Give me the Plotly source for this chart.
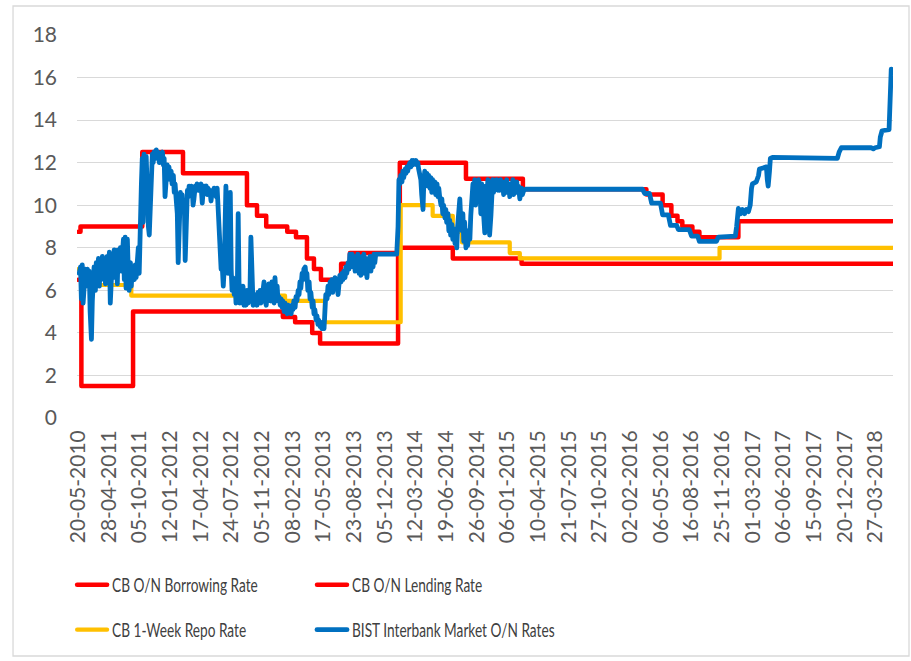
import plotly.graph_objects as go

# Observation number (business-day index) and rate (%) for each series.
# Policy rates are stored as change points and drawn as steps.
BORROW_OBS = [0, 7, 125, 467, 495, 534, 552, 730, 855, 1012, 1858]
BORROW_RATE = [6.5, 1.5, 5.0, 4.75, 4.5, 4.0, 3.5, 8.0, 7.5, 7.25, 7.25]

LEND_OBS = [0, 5, 146, 239, 385, 408, 429, 477, 497, 522, 538, 554, 600, 620,
            734, 885, 1015, 1297, 1334, 1354, 1368, 1379, 1402, 1418, 1507, 1858]
LEND_RATE = [8.75, 9.0, 12.5, 11.5, 10.0, 9.5, 9.0, 8.75, 8.5, 7.5, 7.0, 6.5, 7.25, 7.75,
             12.0, 11.25, 10.75, 10.5, 10.0, 9.5, 9.25, 9.0, 8.75, 8.5, 9.25, 9.25]

REPO_OBS = [0, 9, 41, 121, 472, 563, 736, 809, 855, 876, 985, 1008, 1464, 1858]
REPO_RATE = [7.0, 6.5, 6.25, 5.75, 5.5, 4.5, 10.0, 9.5, 8.75, 8.25, 7.75, 7.5, 8.0, 8.0]

BIST_OBS = [
    2, 5, 7, 9, 11, 14, 16, 18, 21, 23, 25, 27, 30, 32, 34, 36, 39, 41, 43, 46, 48, 50, 52, 55,
    57, 59, 62, 64, 66, 68, 71, 73, 75, 78, 80, 82, 84, 87, 89, 91, 93, 96, 98, 100, 103, 105, 107, 109, 112,
    114, 116, 119, 121, 123, 125, 128, 130, 132, 135, 137, 139, 141, 144, 146, 148, 150, 153, 155, 157, 160, 162, 164, 166, 169,
    171, 173, 176, 178, 180, 182, 185, 187, 189, 192, 194, 196, 198, 201, 203, 205, 207, 210, 212, 214, 217, 219, 221, 223, 226,
    228, 230, 233, 235, 237, 239, 242, 244, 246, 249, 251, 253, 255, 258, 260, 262, 264, 267, 269, 271, 274, 276, 278, 280, 283,
    285, 287, 290, 292, 294, 296, 299, 301, 303, 306, 308, 310, 312, 315, 317, 319, 321, 324, 326, 328, 331, 333, 335, 337, 340,
    342, 344, 347, 349, 351, 353, 356, 358, 360, 363, 365, 367, 369, 372, 374, 376, 378, 381, 383, 385, 388, 390, 392, 394, 397,
    399, 401, 404, 406, 408, 410, 413, 415, 417, 420, 422, 424, 426, 429, 431, 433, 435, 438, 440, 442, 445, 447, 449, 451, 454,
    456, 458, 461, 463, 465, 467, 470, 472, 474, 477, 479, 481, 483, 486, 488, 490, 492, 495, 497, 499, 502, 504, 506, 508, 511,
    513, 515, 518, 520, 522, 524, 527, 529, 531, 534, 536, 538, 540, 543, 545, 547, 549, 552, 554, 556, 559, 561, 563, 565, 568,
    570, 572, 575, 577, 579, 581, 584, 586, 588, 591, 593, 595, 597, 600, 602, 604, 606, 609, 611, 613, 616, 618, 620, 622, 625,
    627, 629, 632, 634, 636, 638, 641, 643, 645, 648, 650, 652, 654, 657, 659, 661, 663, 666, 668, 670, 673, 675, 677, 679,
    689, 727, 730, 732, 734, 736, 739,
    741, 743, 746, 748, 750, 752, 755, 757, 759, 762, 764, 766, 768, 771, 773, 775, 777, 780, 782, 784, 787, 789, 791, 793, 796,
    798, 800, 803, 805, 807, 809, 812, 814, 816, 819, 821, 823, 825, 828, 830, 832, 834, 837, 839, 841, 844, 846, 848, 850, 853,
    855, 857, 860, 862, 864, 866, 869, 871, 873, 876, 878, 880, 882, 885, 887, 889, 891, 894, 896, 898, 901, 903, 905, 907, 910,
    912, 914, 917, 919, 921, 923, 926, 928, 930, 933, 935, 937, 939, 942, 944, 946, 948, 951, 953, 955, 958, 960, 962, 964, 967,
    969, 971, 974, 976, 978, 980, 983, 985, 987, 990, 992, 994, 996, 999, 1001, 1003, 1005, 1008, 1010, 1012, 1014, 1017, 1021,
    1288, 1293, 1304, 1309, 1329, 1334, 1347, 1352, 1366, 1370, 1395, 1400, 1414, 1418, 1457, 1461, 1493, 1500,
    1503, 1505, 1507, 1512, 1516, 1521, 1525, 1530, 1534, 1537, 1539, 1548, 1553, 1555, 1571, 1573, 1575, 1578, 1580, 1585,
    1692, 1696, 1733, 1737, 1742, 1810, 1815, 1819, 1829, 1831, 1835, 1851, 1854, 1856, 1858,
]
BIST_RATE = [
    6.8, 7.1, 5.6, 7.2, 5.4, 6.9, 7.0, 6.2, 7.0, 6.4, 6.9, 5.0, 3.7, 5.5, 6.6, 7.1, 6.0, 7.3, 6.5, 7.5, 6.2, 7.1, 6.5, 7.6,
    6.8, 7.3, 6.3, 7.5, 7.6, 6.9, 7.8, 5.4, 7.2, 7.6, 6.6, 7.9, 6.8, 7.8, 6.3, 7.9, 7.2, 8.0, 6.9, 7.4, 8.4, 6.5, 8.5, 6.1, 8.4,
    7.0, 6.0, 7.3, 6.2, 6.9, 7.1, 6.5, 7.2, 6.6, 7.5, 8.0, 6.8, 9.5, 11.0, 12.2, 9.2, 12.4, 11.0, 12.3, 10.4, 9.0, 8.6, 10.0, 12.2, 12.4,
    12.0, 12.5, 12.2, 12.6, 12.3, 12.5, 12.0, 12.4, 12.2, 12.5, 11.9, 12.2, 10.4, 11.4, 11.9, 11.5, 11.8, 11.2, 11.6, 11.0, 11.4, 10.6, 11.0, 10.4, 9.6,
    7.3, 9.8, 10.6, 10.0, 10.5, 9.7, 10.2, 7.4, 9.6, 10.7, 10.4, 10.9, 10.6, 10.9, 10.8, 10.0, 10.3, 10.9, 10.8, 11.0, 10.7, 10.9, 10.9, 11.0, 10.1,
    10.7, 10.9, 10.8, 10.9, 10.5, 10.8, 10.7, 10.6, 10.2, 10.7, 10.5, 10.8, 10.6, 10.4, 10.8, 9.6, 8.5, 7.6, 7.0, 7.4, 6.2, 7.0, 9.5, 10.9, 8.0,
    6.8, 7.4, 10.6, 7.0, 6.0, 6.6, 5.8, 6.4, 5.4, 6.0, 9.6, 6.3, 5.4, 6.0, 5.5, 6.2, 5.3, 5.8, 5.3, 6.0, 5.4, 5.6, 6.0, 8.5, 5.6,
    5.3, 5.5, 5.4, 5.8, 5.3, 5.9, 5.5, 6.0, 5.4, 5.7, 6.1, 6.4, 5.6, 5.3, 5.7, 5.5, 6.3, 5.8, 5.5, 6.4, 5.6, 5.4, 6.6, 5.9, 6.2,
    5.5, 5.7, 5.3, 5.6, 5.2, 5.5, 5.0, 5.4, 5.1, 4.9, 5.3, 5.0, 5.2, 4.9, 5.3, 5.1, 5.5, 5.2, 5.7, 5.5, 6.0, 5.8, 6.4, 6.1, 6.8,
    6.5, 7.0, 7.1, 6.6, 6.8, 6.0, 6.4, 5.6, 5.9, 5.2, 5.5, 4.9, 5.1, 4.6, 4.8, 4.4, 4.6, 4.3, 4.5, 4.2, 4.4, 4.2, 5.0, 5.8, 5.6,
    6.2, 5.8, 6.4, 6.0, 6.5, 5.9, 6.3, 6.6, 6.1, 6.5, 5.8, 6.4, 6.7, 6.4, 6.8, 6.5, 6.9, 6.6, 7.1, 6.8, 7.3, 7.0, 7.7, 7.2, 7.7,
    7.1, 7.6, 6.9, 7.5, 7.0, 7.7, 6.8, 7.4, 6.7, 7.6, 7.0, 7.7, 6.8, 7.5, 6.6, 7.3, 7.0, 7.6, 6.9, 7.4, 7.1, 7.7, 7.3, 7.7,
    7.7, 7.7, 9.0, 11.2, 11.0, 11.4, 11.1,
    11.6, 11.3, 11.7, 11.5, 11.8, 11.6, 11.9, 12.0, 11.8, 12.1, 11.9, 12.1, 12.0, 12.1, 11.9, 12.0, 11.7, 11.5, 11.2, 10.5, 9.8, 11.2, 11.6, 11.1, 11.5,
    10.9, 11.4, 10.8, 11.3, 10.6, 11.2, 10.7, 11.1, 10.5, 11.0, 10.4, 10.8, 10.4, 10.0, 10.3, 9.6, 10.0, 9.4, 9.8, 9.2, 9.6, 8.8, 9.3, 8.6, 9.1,
    8.4, 8.9, 8.2, 8.7, 8.0, 9.0, 10.0, 10.3, 9.4, 8.8, 9.6, 8.3, 9.2, 8.0, 8.6, 8.1, 8.8, 8.4, 9.5, 10.3, 11.0, 10.5, 11.2, 10.0, 11.1,
    10.4, 11.2, 10.7, 9.6, 11.0, 10.2, 9.0, 8.7, 10.9, 10.4, 11.2, 9.8, 8.6, 9.5, 10.8, 11.2, 10.6, 11.0, 10.8, 11.2, 10.7, 11.1, 10.7, 11.2, 10.9,
    11.0, 10.5, 11.1, 10.8, 11.2, 10.6, 11.0, 10.4, 11.0, 10.8, 11.2, 10.5, 10.9, 10.7, 11.1, 10.6, 10.9, 10.3, 10.6, 10.8, 10.5, 10.7, 10.75,
    10.75, 10.55, 10.55, 10.1, 10.1, 9.55, 9.55, 9.05, 9.05, 8.85, 8.85, 8.55, 8.55, 8.3, 8.3, 8.5, 8.5, 8.55,
    9.0, 9.7, 9.85, 9.6, 9.8, 9.6, 9.8, 9.7, 10.0, 10.8, 11.0, 11.1, 11.4, 11.7, 11.8, 11.2, 10.9, 11.6, 12.2, 12.25,
    12.25, 12.2, 12.2, 12.5, 12.7, 12.7, 12.65, 12.7, 12.75, 13.2, 13.5, 13.55, 15.0, 16.4, 16.2,
]

# Category labels shown every 70 observations
TICK_OBS = [0, 70, 140, 210, 280, 350, 420, 490, 560, 630, 700, 770, 840, 910,
            980, 1050, 1120, 1190, 1260, 1330, 1400, 1470, 1540, 1610, 1680, 1750, 1820]
TICK_TEXT = ["20-05-2010", "28-04-2011", "05-10-2011", "12-01-2012", "17-04-2012",
             "24-07-2012", "05-11-2012", "08-02-2013", "17-05-2013", "23-08-2013",
             "05-12-2013", "12-03-2014", "19-06-2014", "26-09-2014", "06-01-2015",
             "10-04-2015", "21-07-2015", "27-10-2015", "02-02-2016", "06-05-2016",
             "16-08-2016", "25-11-2016", "01-03-2017", "06-06-2017", "15-09-2017",
             "20-12-2017", "27-03-2018"]

RED = "#FF0000"
GOLD = "#FFC000"
BLUE = "#0070C0"
AXIS_FONT = dict(family="Lato, 'Open Sans', sans-serif", size=21, color="#595959")
LEGEND_FONT = dict(family="Lato, 'Open Sans', sans-serif", size=19, color="#404040")

fig = go.Figure()
fig.add_trace(go.Scatter(x=BORROW_OBS, y=BORROW_RATE, mode="lines", line_shape="hv",
                         line=dict(color=RED, width=4.5), name="CB O/N Borrowing Rate",
                         legend="legend"))
fig.add_trace(go.Scatter(x=LEND_OBS, y=LEND_RATE, mode="lines", line_shape="hv",
                         line=dict(color=RED, width=4.5), name="CB O/N Lending Rate",
                         legend="legend2"))
fig.add_trace(go.Scatter(x=REPO_OBS, y=REPO_RATE, mode="lines", line_shape="hv",
                         line=dict(color=GOLD, width=4.2), name="CB 1-Week Repo Rate",
                         legend="legend3"))
fig.add_trace(go.Scatter(x=BIST_OBS, y=BIST_RATE, mode="lines",
                         line=dict(color=BLUE, width=4.8), name="BIST Interbank Market O/N Rates",
                         legend="legend4"))

def legend_box(x, y):
    return dict(x=x, y=y, xanchor="left", yanchor="middle", xref="paper", yref="paper",
                bgcolor="rgba(0,0,0,0)", borderwidth=0, font=LEGEND_FONT)

fig.update_layout(
    width=911, height=661, autosize=False,
    margin=dict(l=77, r=18, t=35, b=243),
    paper_bgcolor="white", plot_bgcolor="white",
    showlegend=True,
    legend=legend_box(-0.006, -0.436),
    legend2=legend_box(0.288, -0.436),
    legend3=legend_box(-0.006, -0.553),
    legend4=legend_box(0.288, -0.553),
    xaxis=dict(range=[-3, 1860], tickmode="array", tickvals=TICK_OBS, ticktext=TICK_TEXT,
               tickangle=-90, showgrid=False, zeroline=False, showline=False, ticks="",
               tickfont=AXIS_FONT, ticklabelstandoff=7),
    yaxis=dict(range=[0, 18], tickmode="array", tickvals=list(range(0, 20, 2)),
               showgrid=True, gridcolor="#D9D9D9", gridwidth=1.3, zeroline=False,
               showline=False, ticks="", tickfont=AXIS_FONT, ticklabelstandoff=19),
    shapes=[dict(type="rect", xref="paper", yref="paper",
                 x0=-0.0784, x1=1.0196, y0=-0.6214, y1=1.0757,
                 line=dict(color="#D9D9D9", width=1.3), fillcolor="rgba(0,0,0,0)",
                 layer="below")],
)

# Stylesheet: round line joins/caps and a condensed legend text face,
# covering the entry text of every legend box in the info layer.
STYLE_JS = """
var css = document.createElement('style');
css.textContent =
  '.js-plotly-plot path.js-line { stroke-linejoin: round; stroke-linecap: round; }' +
  '.js-plotly-plot .infolayer .traces text, .js-plotly-plot text.legendtext {' +
  ' transform: scale(0.72, 1) !important; transform-origin: 40px 0px !important; }';
document.head.appendChild(css);
"""

fig.write_html("out.html", post_script=STYLE_JS)
